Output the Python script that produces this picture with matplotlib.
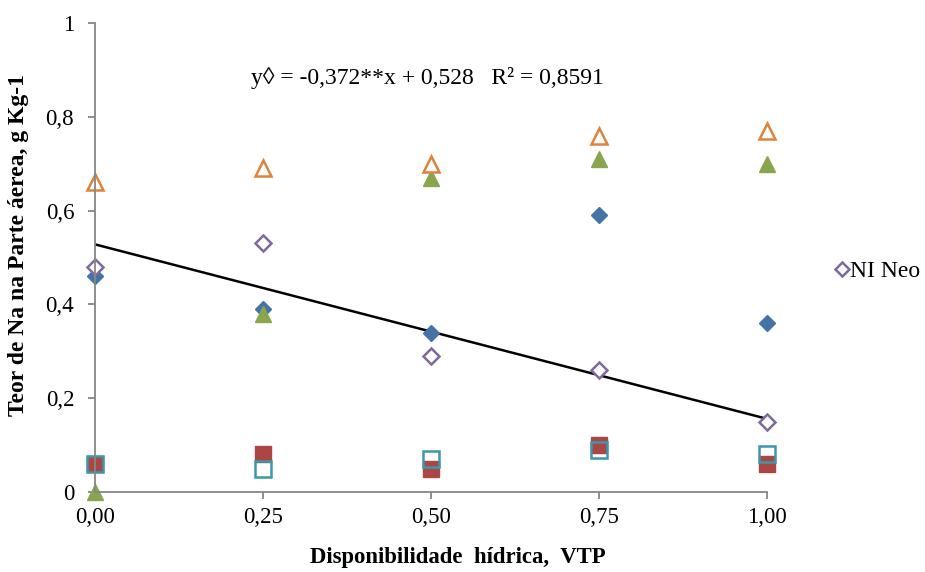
import matplotlib
matplotlib.use("Agg")
import matplotlib.pyplot as plt
import numpy as np
from matplotlib.lines import Line2D

plt.rcParams['font.family'] = ['Liberation Serif', 'DejaVu Serif']

x = [0.00, 0.25, 0.50, 0.75, 1.00]
x_labels = ["0,00", "0,25", "0,50", "0,75", "1,00"]
y_ticks = [0, 0.2, 0.4, 0.6, 0.8, 1.0]
y_labels = ["0", "0,2", "0,4", "0,6", "0,8", "1"]

orange_open_tri = [0.66, 0.69, 0.70, 0.76, 0.77]
green_tri = [0.00, 0.38, 0.67, 0.71, 0.70]
blue_diamond = [0.46, 0.39, 0.34, 0.59, 0.36]
ni_neo = [0.48, 0.53, 0.29, 0.26, 0.15]
red_square = [0.06, 0.08, 0.05, 0.10, 0.06]
aqua_open_square = [0.06, 0.05, 0.07, 0.09, 0.08]

equation = "y\u25ca = -0,372**x + 0,528   R\u00b2 = 0,8591"

fig = plt.figure(figsize=(9.25, 5.72), dpi=100)
ax = fig.add_axes([0.1027, 0.1399, 0.7264, 0.8199])

kw = dict(linestyle='none', clip_on=False)
ax.plot(x, blue_diamond, marker='D', markersize=8.6, color='#4572A7', **kw)
ax.plot(x, red_square, marker='s', markersize=11.5, color='#AA4643', **kw)
ax.plot(x, green_tri, marker='^', markersize=12, color='#89A54E', **kw)
ax.plot(x, ni_neo, marker='D', markersize=8.6, markerfacecolor='white',
        markeredgecolor='#80699B', markeredgewidth=1.8, **kw)
ax.plot(x, aqua_open_square, marker='s', markersize=11.5, markerfacecolor='none',
        markeredgecolor='#3D96AE', markeredgewidth=1.8, **kw)
ax.plot(x, orange_open_tri, marker='^', markersize=12, markerfacecolor='white',
        markeredgecolor='#DB843D', markeredgewidth=1.8, **kw)

# linear trend for NI Neo
coef = np.polyfit(x, ni_neo, 1)
xl = np.array([0.0, 1.0])
ax.plot(xl, np.polyval(coef, xl), color='black', linewidth=1.8, zorder=1.5)

ax.set_xlim(0, 1)
ax.set_ylim(0, 1)
ax.set_xticks(x)
ax.set_xticklabels(x_labels)
ax.set_yticks(y_ticks)
ax.set_yticklabels(y_labels)
for s in ['top', 'right']:
    ax.spines[s].set_visible(False)
for s in ['left', 'bottom']:
    ax.spines[s].set_color('#868686')
    ax.spines[s].set_linewidth(1.3)
ax.tick_params(direction='out', length=5, width=1.3, color='#868686',
               labelsize=16.5, labelcolor='black')
ax.tick_params(axis='y', pad=10)
ax.tick_params(axis='x', pad=6)

fig.text(0.495, 0.026, "Disponibilidade  hídrica,  VTP", fontsize=16.4,
         fontweight='bold', ha='center', va='center')
fig.text(0.0205, 0.5717, "Teor de Na na Parte áerea, g Kg-1", fontsize=17,
         fontweight='bold', ha='center', va='center', rotation=90)

ax.text(0.232, 0.883, equation, fontsize=17, va='center', ha='left', transform=ax.transData)

handle = Line2D([], [], linestyle='none', marker='D', markersize=7,
                markerfacecolor='white', markeredgecolor='#80699B', markeredgewidth=1.8)
fig.legend([handle], ["NI Neo"], loc='center left', bbox_to_anchor=(0.904, 0.526),
           frameon=False, fontsize=17, handlelength=0.5, handletextpad=0.1,
           borderpad=0, borderaxespad=0)

fig.savefig("out.png", dpi=100)
